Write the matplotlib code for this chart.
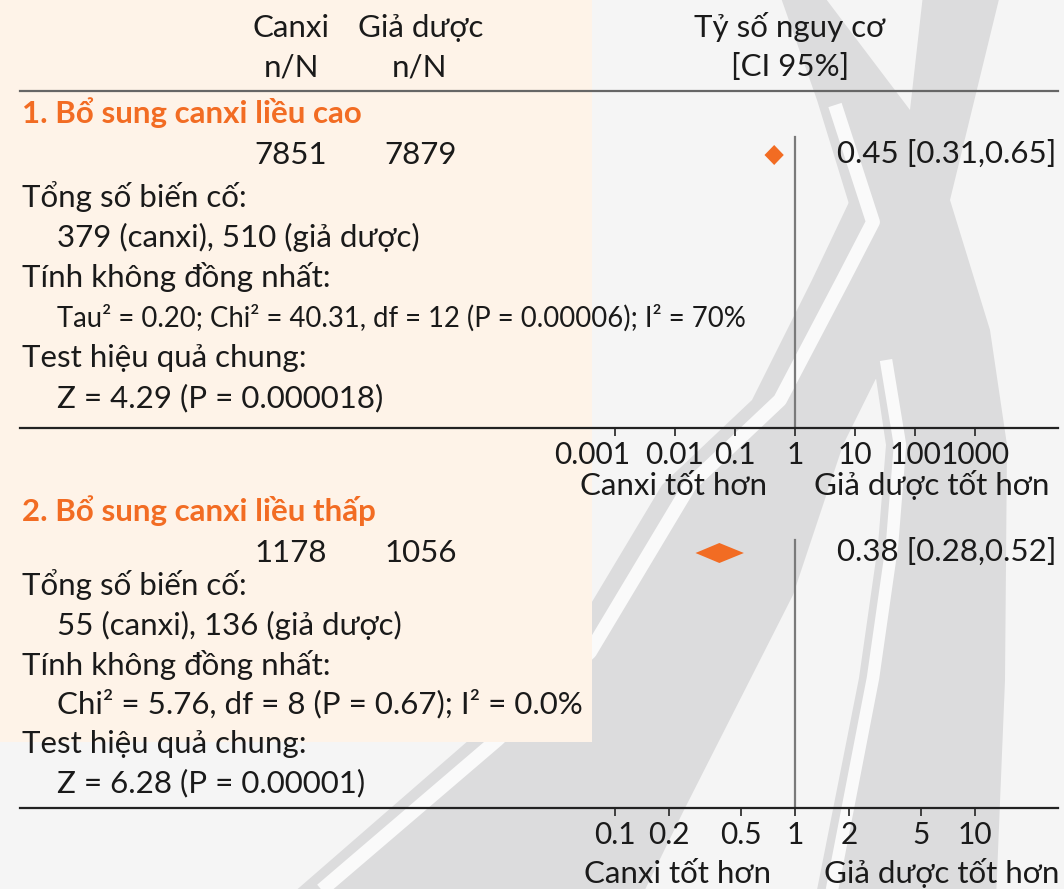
import matplotlib.pyplot as plt
import matplotlib.transforms as mtransforms
from matplotlib.patches import Polygon, Rectangle
from matplotlib.ticker import NullLocator

plt.rcParams['font.family'] = ['Lato', 'Noto Sans', 'DejaVu Sans']

# ---- data ----
group_titles = ["1. Bổ sung canxi liều cao", "2. Bổ sung canxi liều thấp"]
n_canxi = [7851, 1178]
n_placebo = [7879, 1056]
rr = [0.45, 0.38]
rr_low = [0.31, 0.28]
rr_high = [0.65, 0.52]
events_canxi = [379, 55]
events_placebo = [510, 136]
heterogeneity = ["Tau² = 0.20; Chi² = 40.31, df = 12 (P = 0.00006); I² = 70%",
                 "Chi² = 5.76, df = 8 (P = 0.67); I² = 0.0%"]
overall_test = ["Z = 4.29 (P = 0.000018)", "Z = 6.28 (P = 0.00001)"]
ticks_1 = [0.001, 0.01, 0.1, 1, 10, 100, 1000]
ticks_2 = [0.1, 0.2, 0.5, 1, 2, 5, 10]

W, H = 1064, 889
ORANGE = '#F26C23'
TXT = '#1a1a1a'
FS = 22.5

fig = plt.figure(figsize=(W / 100, H / 100), dpi=100)
fig.patch.set_facecolor('#F5F5F5')

# background layer in pixel coordinates
bg = fig.add_axes([0, 0, 1, 1])
bg.set_xlim(0, W)
bg.set_ylim(H, 0)
bg.axis('off')

# watermark "X"
GREY = '#DCDCDD'
stroke2 = [(1000, -5), (950, 200), (905, 320), (843, 445), (793, 595), (683, 812), (640, 900),
           (285, 900), (469, 740), (562, 652), (662, 485), (752, 400), (812, 280), (850, 200),
           (910, 110), (923, -5)]
stroke1 = [(780, -5), (817, 100), (857, 230), (874, 365), (886, 445), (878, 545), (859, 678),
           (815, 900), (996, 900), (1005, 680), (1007, 445), (990, 330), (950, 200), (910, 110),
           (823, -5)]
bg.add_patch(Polygon(stroke2, closed=True, color=GREY, lw=0, zorder=1))
bg.add_patch(Polygon(stroke1, closed=True, color=GREY, lw=0, zorder=1))
w1 = [(835, 105), (873, 222), (843, 280), (780, 400), (690, 485), (590, 652), (497, 740), (310, 900)]
w2 = [(886, 360), (900, 445), (892, 545), (873, 678), (830, 900)]
bg.plot(*zip(*w1), color='#FAFAFA', lw=10, solid_capstyle='butt', zorder=2)
bg.plot(*zip(*w2), color='#FAFAFA', lw=9, solid_capstyle='butt', zorder=2)

# peach panel behind the text
bg.add_patch(Rectangle((0, 0), 592, 742, color='#FEF3E8', lw=0, zorder=3))


def txt(x, y, s, **kw):
    kw.setdefault('fontsize', FS)
    kw.setdefault('color', TXT)
    kw.setdefault('va', 'baseline')
    bg.text(x, y, s, zorder=5, **kw)


# header
txt(291, 37, "Canxi", ha='center')
txt(421, 37, "Giả dược", ha='center')
txt(292, 76, "n/N", ha='center')
txt(420, 76, "n/N", ha='center')
txt(790, 37, "Tỷ số nguy cơ", ha='center')
txt(790, 76, "[CI 95%]", ha='center')
bg.plot([20, 1058], [91, 91], color='#666666', lw=1.6, zorder=5)

# one block per subgroup
tops = [0, 398]
decade_px = [60, 180]
tick_sets = [ticks_1, ticks_2]
for i in range(2):
    t = tops[i]
    txt(22, 123 + t, group_titles[i], color=ORANGE, fontweight='bold')
    txt(291, 164 + t, str(n_canxi[i]), ha='center')
    txt(421, 164 + t, str(n_placebo[i]), ha='center')
    txt(837, 163 + t, f"{rr[i]:.2f} [{rr_low[i]:.2f},{rr_high[i]:.2f}]")

    rows = ["Tổng số biến cố:",
            f"   {events_canxi[i]} (canxi), {events_placebo[i]} (giả dược)",
            "Tính không đồng nhất:",
            None,
            "Test hiệu quả chung:",
            "   " + overall_test[i]]
    base = [207, 247, 287, 327, 367, 407] if i == 0 else [595, 635, 675, 713, 753, 792]
    for k, r in enumerate(rows):
        if r is None:
            fs = 19.8 if i == 0 else FS
            txt(57, base[k], heterogeneity[i], fontsize=fs)
        elif r.startswith("   "):
            txt(57, base[k], r.strip())
        else:
            txt(22, base[k], r)

    # forest axis
    y_line = 428 if i == 0 else 808
    y_top = 120 + t
    ax = fig.add_axes([20 / W, 1 - y_line / H, (1058 - 20) / W, (y_line - y_top) / H])
    ax.patch.set_alpha(0)
    ax.set_zorder(4)
    ax.set_xscale('log')
    d = decade_px[i]
    ax.set_xlim(10 ** ((20 - 795) / d), 10 ** ((1058 - 795) / d))
    ax.set_ylim(y_line, y_top)
    for s in ['top', 'left', 'right']:
        ax.spines[s].set_visible(False)
    ax.spines['bottom'].set_color('#222222')
    ax.spines['bottom'].set_linewidth(1.6)
    ax.set_yticks([])
    ax.set_xticks(tick_sets[i])
    ax.set_xticklabels([f"{v:g}" for v in tick_sets[i]])
    ax.xaxis.set_minor_locator(NullLocator())
    ax.tick_params(axis='x', direction='out', length=6, width=1.3, color='#333333',
                   labelsize=21.5, labelcolor=TXT, pad=3)
    if i == 0:
        # first label sits left of its tick, as in the source figure
        lbl = ax.get_xticklabels()[0]
        lbl.set_transform(lbl.get_transform() +
                          mtransforms.ScaledTranslation(-0.23, 0, fig.dpi_scale_trans))

    y_mid = 553 if i == 1 else 155
    v_top = 137 if i == 0 else 540
    ax.plot([1, 1], [v_top, y_line], color='#7a7a7a', lw=1.6)
    ax.fill([rr_low[i], rr[i], rr_high[i], rr[i]], [y_mid, y_mid - 10, y_mid, y_mid + 10],
            color=ORANGE, lw=0)

    lab_y = 495 if i == 0 else 883
    txt(673 if i == 0 else 677, lab_y, "Canxi tốt hơn", ha='center')
    txt(932 if i == 0 else 942, lab_y, "Giả dược tốt hơn", ha='center')

fig.savefig('out.png', dpi=100)
